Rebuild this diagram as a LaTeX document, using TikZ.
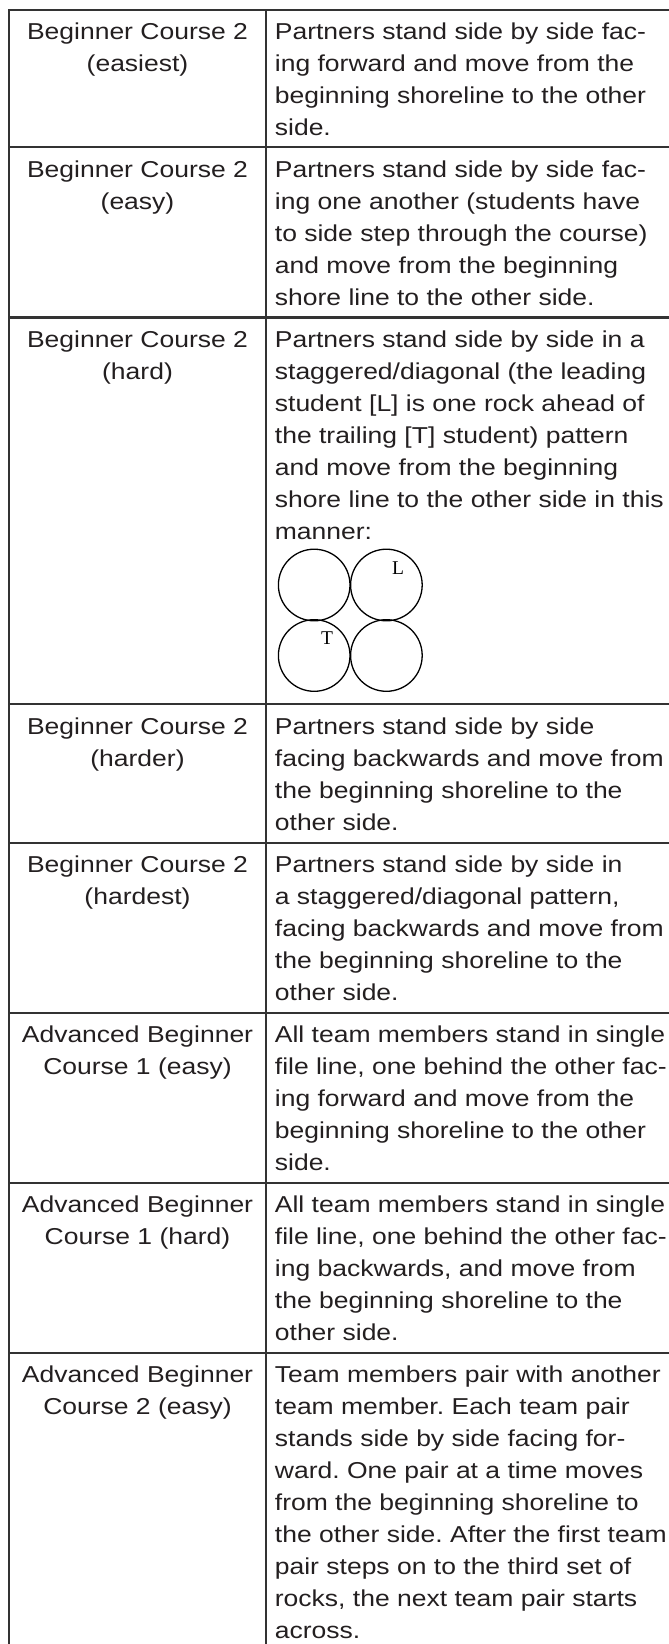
\documentclass[tikz,border=0pt]{standalone}
\usepackage{fontspec}
\setmainfont{Liberation Sans}[FakeStretch=1.152]
\newfontfamily\rockfont{Liberation Serif}
\definecolor{inkgray}{HTML}{231F20}
\definecolor{rulegray}{HTML}{333333}
\frenchspacing

\begin{document}
\begin{tikzpicture}[x=1pt,y=-1pt]
\useasboundingbox (0,0) rectangle (669,1644);

% table rules
\begin{scope}[rulegray,line width=2.2pt]
    \draw (9,1644) -- (9,10) -- (669,10);
    \draw (265.7,10) -- (265.7,1644);
    \draw (9,147.3) -- (669,147.3);
    \draw (9,317.5) -- (669,317.5);
    \draw (9,704.3) -- (669,704.3);
    \draw (9,842.7) -- (669,842.7);
    \draw (9,1012.7) -- (669,1012.7);
    \draw (9,1182.7) -- (669,1182.7);
    \draw (9,1352.7) -- (669,1352.7);
\end{scope}

% course names
\begin{scope}[every node/.style={anchor=north,inner sep=0,align=center,text=inkgray,
                                 font=\fontsize{23}{32}\selectfont}]
    \node (L1) at (137.5,22.9) {Beginner Course 2\\(easiest)};
    \node (L2) at (137.5,160.2) {Beginner Course 2\\(easy)};
    \node (L3) at (137.5,330.4) {Beginner Course 2\\(hard)};
    \node (L4) at (137.5,717.2) {Beginner Course 2\\(harder)};
    \node (L5) at (137.5,855.6) {Beginner Course 2\\(hardest)};
    \node (L6) at (137.5,1025.6) {Advanced Beginner\\Course 1 (easy)};
    \node (L7) at (137.5,1195.6) {Advanced Beginner\\Course 1 (hard)};
    \node (L8) at (137.5,1365.6) {Advanced Beginner\\Course 2 (easy)};
\end{scope}

% descriptions
\begin{scope}[every node/.style={anchor=north west,inner sep=0,align=left,text=inkgray,
                                 font=\fontsize{23}{32}\selectfont}]
    \node (R1) at (274.7,22.9) {Partners stand side by side fac-\\ing forward and move from the\\beginning shoreline to the other\\side.};
    \node (R2) at (274.7,160.2) {Partners stand side by side fac-\\ing one another (students have\\to side step through the course)\\and move from the beginning\\shore line to the other side.};
    \node (R3) at (274.7,330.4) {Partners stand side by side in a\\staggered/diagonal (the leading\\student [L] is one rock ahead of\\the trailing [T] student) pattern\\and move from the beginning\\shore line to the other side in this\\manner:};
    \node (R4) at (274.7,717.2) {Partners stand side by side\\facing backwards and move from\\the beginning shoreline to the\\other side.};
    \node (R5) at (274.7,855.6) {Partners stand side by side in\\a staggered/diagonal pattern,\\facing backwards and move from\\the beginning shoreline to the\\other side.};
    \node (R6) at (274.7,1025.6) {All team members stand in single\\file line, one behind the other fac-\\ing forward and move from the\\beginning shoreline to the other\\side.};
    \node (R7) at (274.7,1195.6) {All team members stand in single\\file line, one behind the other fac-\\ing backwards, and move from\\the beginning shoreline to the\\other side.};
    \node (R8) at (274.7,1365.6) {Team members pair with another\\team member. Each team pair\\stands side by side facing for-\\ward. One pair at a time moves\\from the beginning shoreline to\\the other side. After the first team\\pair steps on to the third set of\\rocks, the next team pair starts\\across.};
\end{scope}

% rocks
\begin{scope}[every node/.style={circle,draw=black,line width=1.3pt,inner sep=0,minimum size=71.6pt}]
    \node (C1) at (314.2,585) {};
    \node (C2) at (386.4,585) {};
    \node (C3) at (314.2,655.5) {};
    \node (C4) at (386.4,655.5) {};
\end{scope}
\node[inner sep=0,font=\rockfont\fontsize{19.5}{20}\selectfont] (Lead) at (398,568) {L};
\node[inner sep=0,font=\rockfont\fontsize{19.5}{20}\selectfont] (Trail) at (327,638) {T};
\end{tikzpicture}
\end{document}
